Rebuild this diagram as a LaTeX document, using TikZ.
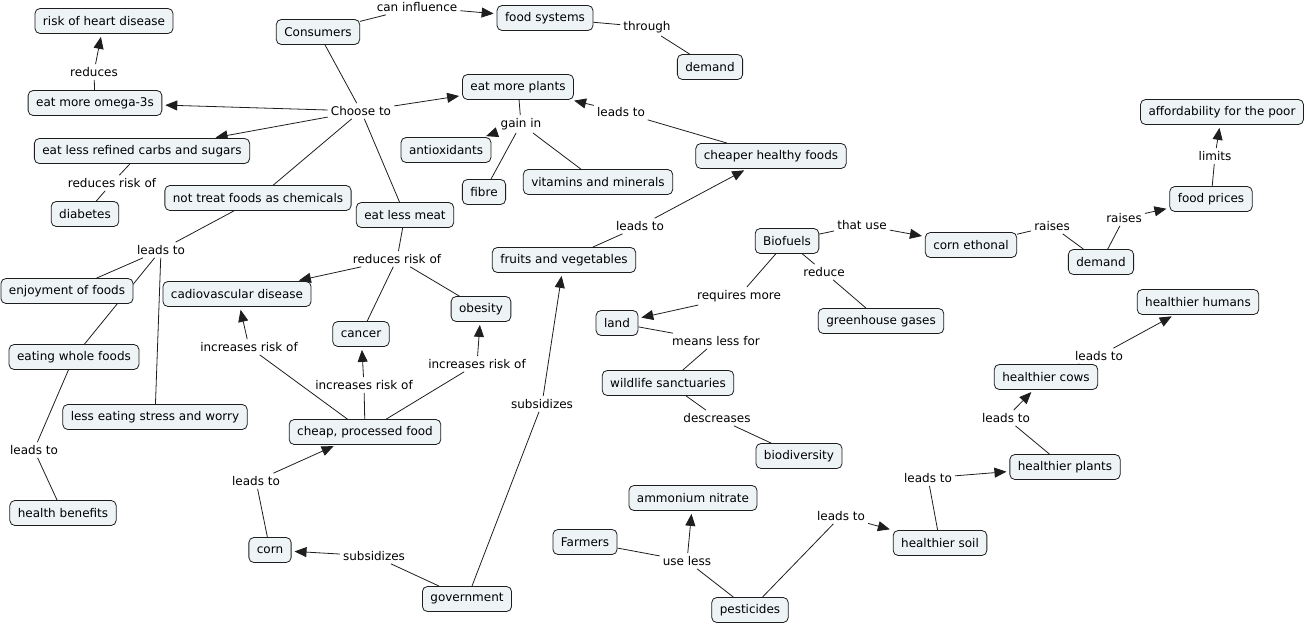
\documentclass[tikz,border=0pt]{standalone}
\usepackage{fontspec}
\setmainfont{DejaVu Sans}
\usetikzlibrary{arrows.meta,backgrounds}
\definecolor{cmfill}{HTML}{EEF3F5}
\definecolor{cmline}{HTML}{1E1E1E}

\begin{document}
\begin{tikzpicture}[x=1pt,y=-1pt,font=\fontsize{12}{14}\selectfont,
  >={Triangle[length=12pt,width=10pt]},
  cn/.style={draw=cmline,fill=cmfill,rounded corners=5pt,minimum height=25pt,
             inner xsep=8pt,inner ysep=3pt,line width=0.8pt},
  lk/.style={inner sep=3pt},
  ln/.style={cmline,line width=0.8pt},
  a/.style={ln,->,shorten >=3pt}]
\useasboundingbox (0,0) rectangle (1307,627);
% concepts
\node[cn] (heart)    at (104,21)  {risk of heart disease};
\node[cn] (omega)    at (95,103)  {eat more omega-3s};
\node[cn] (carbs)    at (142,151) {eat less refined carbs and sugars};
\node[cn] (diab)     at (85,214)  {diabetes};
\node[cn] (nottreat) at (258,198) {not treat foods as chemicals};
\node[cn] (cons)     at (318,32)  {Consumers};
\node[cn] (foodsys)  at (545,18)  {food systems};
\node[cn] (demA)     at (710,67)  {demand};
\node[cn] (plants)   at (518,87)  {eat more plants};
\node[cn] (antiox)   at (446,150) {antioxidants};
\node[cn] (fibre)    at (484,192) {fibre};
\node[cn] (vitam)    at (598,182) {vitamins and minerals};
\node[cn] (cheaper)  at (771,156) {cheaper healthy foods};
\node[cn] (afford)   at (1222,112) {affordability for the poor};
\node[cn] (prices)   at (1211,199) {food prices};
\node[cn] (meat)     at (405,215) {eat less meat};
\node[cn] (enjoy)    at (67,291)  {enjoyment of foods};
\node[cn] (cardio)   at (237,294) {cadiovascular disease};
\node[cn] (cancer)   at (361,334) {cancer};
\node[cn] (obesity)  at (481,309) {obesity};
\node[cn] (fruits)   at (564,260) {fruits and vegetables};
\node[cn] (whole)    at (74,357)  {eating whole foods};
\node[cn] (stress)   at (155,417) {less eating stress and worry};
\node[cn] (cheapfd)  at (365,432) {cheap, processed food};
\node[cn] (benef)    at (63,513)  {health benefits};
\node[cn] (corn)     at (270,550) {corn};
\node[cn] (govt)     at (467,599) {government};
\node[cn] (farmers)  at (585,542) {Farmers};
\node[cn] (ammon)    at (693,498) {ammonium nitrate};
\node[cn] (pest)     at (750,610) {pesticides};
\node[cn] (soil)     at (940,543) {healthier soil};
\node[cn] (hplants)  at (1065,467) {healthier plants};
\node[cn] (cows)     at (1046,377) {healthier cows};
\node[cn] (humans)   at (1198,302) {healthier humans};
\node[cn] (biodiv)   at (799,456) {biodiversity};
\node[cn] (wild)     at (668,383) {wildlife sanctuaries};
\node[cn] (land)     at (617,323) {land};
\node[cn] (green)    at (881,321) {greenhouse gases};
\node[cn] (biofuel)  at (787,241) {Biofuels};
\node[cn] (ethanol)  at (971,245) {corn ethonal};
\node[cn] (demB)     at (1101,262) {demand};
% linking phrases
\node[lk] (canI)   at (417,7)   {can influence};
\node[lk] (thr)    at (647,27)  {through};
\node[lk] (red)    at (94,72)   {reduces};
\node[lk] (choose) at (361,111) {Choose to};
\node[lk] (rrA)    at (112,183) {reduces risk of};
\node[lk] (gain)   at (521,124) {gain in};
\node[lk] (ltA)    at (621,112) {leads to};
\node[lk] (ltB)    at (640,226) {leads to};
\node[lk] (ltC)    at (161,250) {leads to};
\node[lk] (rrB)    at (397,259) {reduces risk of};
\node[lk] (irA)    at (249,347) {increases risk of};
\node[lk] (irB)    at (364,385) {increases risk of};
\node[lk] (irC)    at (477,364) {increases risk of};
\node[lk] (subA)   at (542,404) {subsidizes};
\node[lk] (ltD)    at (34,450)  {leads to};
\node[lk] (ltE)    at (256,481) {leads to};
\node[lk] (subB)   at (374,556) {subsidizes};
\node[lk] (useL)   at (687,561) {use less};
\node[lk] (ltF)    at (841,516) {leads to};
\node[lk] (ltG)    at (928,478) {leads to};
\node[lk] (ltH)    at (1006,418) {leads to};
\node[lk] (ltI)    at (1099,356) {leads to};
\node[lk] (use)    at (862,225) {that use};
\node[lk] (redc)   at (824,272) {reduce};
\node[lk] (req)    at (739,296) {requires more};
\node[lk] (means)  at (716,341) {means less for};
\node[lk] (decr)   at (717,418) {descreases};
\node[lk] (raiA)   at (1052,226) {raises};
\node[lk] (raiB)   at (1124,218) {raises};
\node[lk] (lim)    at (1215,156) {limits};
\begin{scope}[on background layer]
% plain lines
\foreach \a/\b in {cons/canI,foodsys/thr,thr/demA,omega/red,cons/choose,choose/nottreat,
    choose/meat,carbs/rrA,rrA/diab,plants/gain,gain/fibre,gain/vitam,cheaper/ltA,
    fruits/ltB,nottreat/ltC,ltC/enjoy,ltC/whole,ltC/stress,meat/rrB,rrB/cancer,
    rrB/obesity,whole/ltD,ltD/benef,cheapfd/irA,cheapfd/irB,cheapfd/irC,corn/ltE,
    govt/subB,govt/subA,farmers/useL,useL/pest,pest/ltF,soil/ltG,hplants/ltH,
    cows/ltI,biofuel/use,biofuel/redc,redc/green,biofuel/req,land/means,
    means/wild,wild/decr,decr/biodiv,ethanol/raiA,raiA/demB,demB/raiB,prices/lim}
  \draw[ln] (\a) -- (\b);
% arrows
\foreach \a/\b in {canI/foodsys,red/heart,choose/omega,choose/carbs,choose/plants,
    gain/antiox,ltA/plants,ltB/cheaper,rrB/cardio,irA/cardio,irB/cancer,irC/obesity,
    subA/fruits,ltE/cheapfd,subB/corn,useL/ammon,ltF/soil,ltG/hplants,ltH/cows,
    ltI/humans,use/ethanol,req/land,raiB/prices,lim/afford}
  \draw[a] (\a) -- (\b);
\end{scope}
\end{tikzpicture}
\end{document}
